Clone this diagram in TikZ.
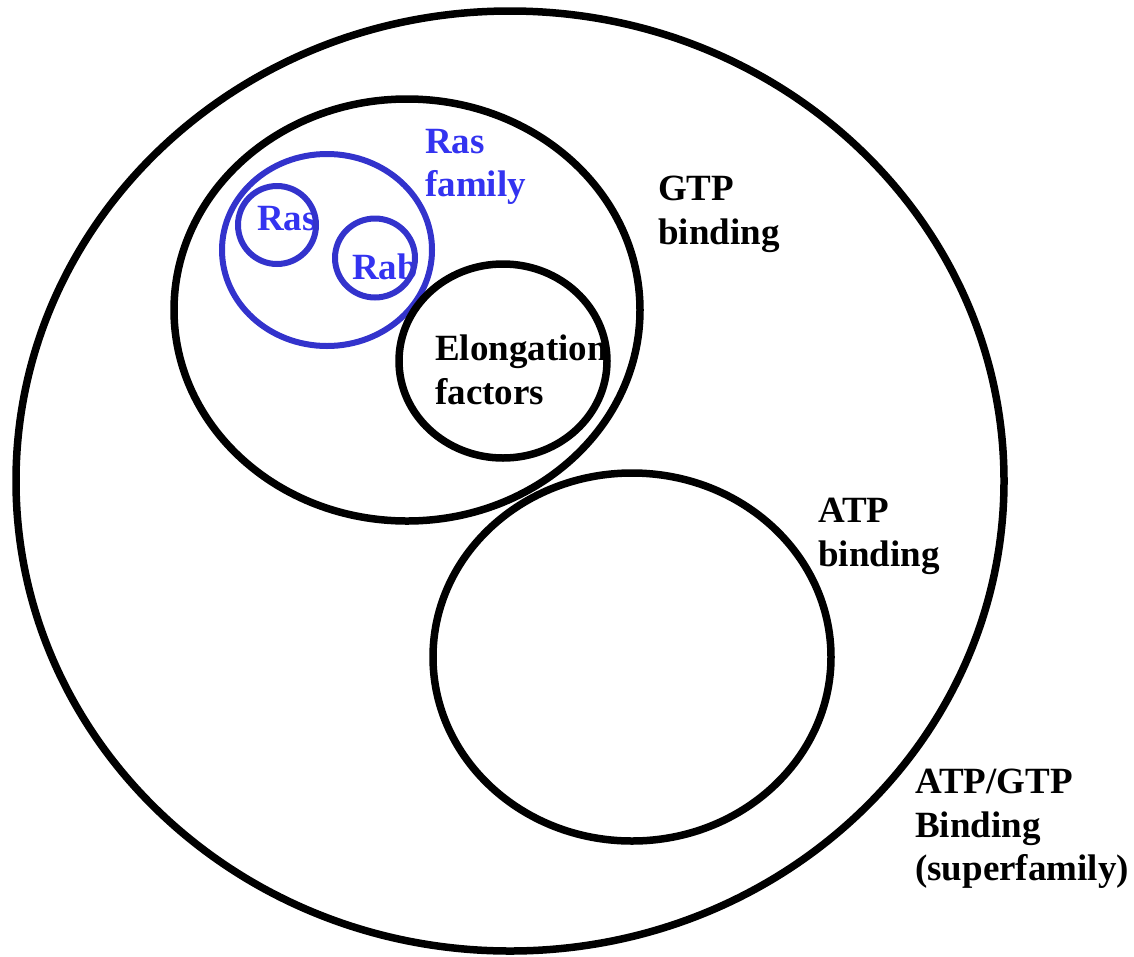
\documentclass[tikz,border=0pt]{standalone}
\usepackage{fontspec}
\setmainfont{Liberation Serif}
\usetikzlibrary{shapes.geometric}
\definecolor{rasline}{RGB}{51,51,204}
\definecolor{rastext}{RGB}{51,51,240}
\begin{document}
\begin{tikzpicture}[x=1pt,y=-1pt,
  setring/.style={ellipse, draw=black, line width=7.5pt, inner sep=0pt},
  rasring/.style={ellipse, draw=rasline, line width=6pt, inner sep=0pt},
  setlabel/.style={anchor=north west, inner sep=0pt, align=left,
    font=\fontsize{37}{43.5}\selectfont\bfseries},
  raslabel/.style={setlabel, text=rastext}]
\useasboundingbox (0,0) rectangle (1134,956);

% superfamily and the two binding families
\node[setring, minimum width=988pt, minimum height=940pt] (super) at (510,481) {};
\node[setring, minimum width=466pt, minimum height=422pt] (gtp) at (407,310) {};
\node[setring, minimum width=398pt, minimum height=368pt] (atp) at (632,657) {};

% Ras family and its members
\node[rasring, minimum width=210pt, minimum height=192pt] (rasfam) at (327,250) {};
\node[raslabel] (rastxt) at (257,206) {Ras};
\node[raslabel] (rabtxt) at (352,254) {Rab};
\node[rasring, minimum width=78pt, minimum height=78pt] (ras) at (277,225) {};
\node[rasring, minimum width=80pt, minimum height=79pt] (rab) at (375,258) {};

% elongation factors, laid over the Ras family ring
\node[ellipse, fill=white, inner sep=0pt, minimum width=208pt, minimum height=194pt] (elong) at (503,361) {};
\node[setlabel] (elongtxt) at (435,335) {Elongation\\factors};
\draw[line width=7.5pt] (elong.center) ellipse [x radius=104pt, y radius=97pt];

% set names
\node[raslabel] (rasfamtxt) at (425,129) {Ras\\family};
\node[setlabel] (gtptxt) at (658,176) {GTP\\binding};
\node[setlabel] (atptxt) at (818,498) {ATP\\binding};
\node[setlabel] (supertxt) at (915,769) {ATP/GTP\\Binding\\(superfamily)};
\end{tikzpicture}
\end{document}
